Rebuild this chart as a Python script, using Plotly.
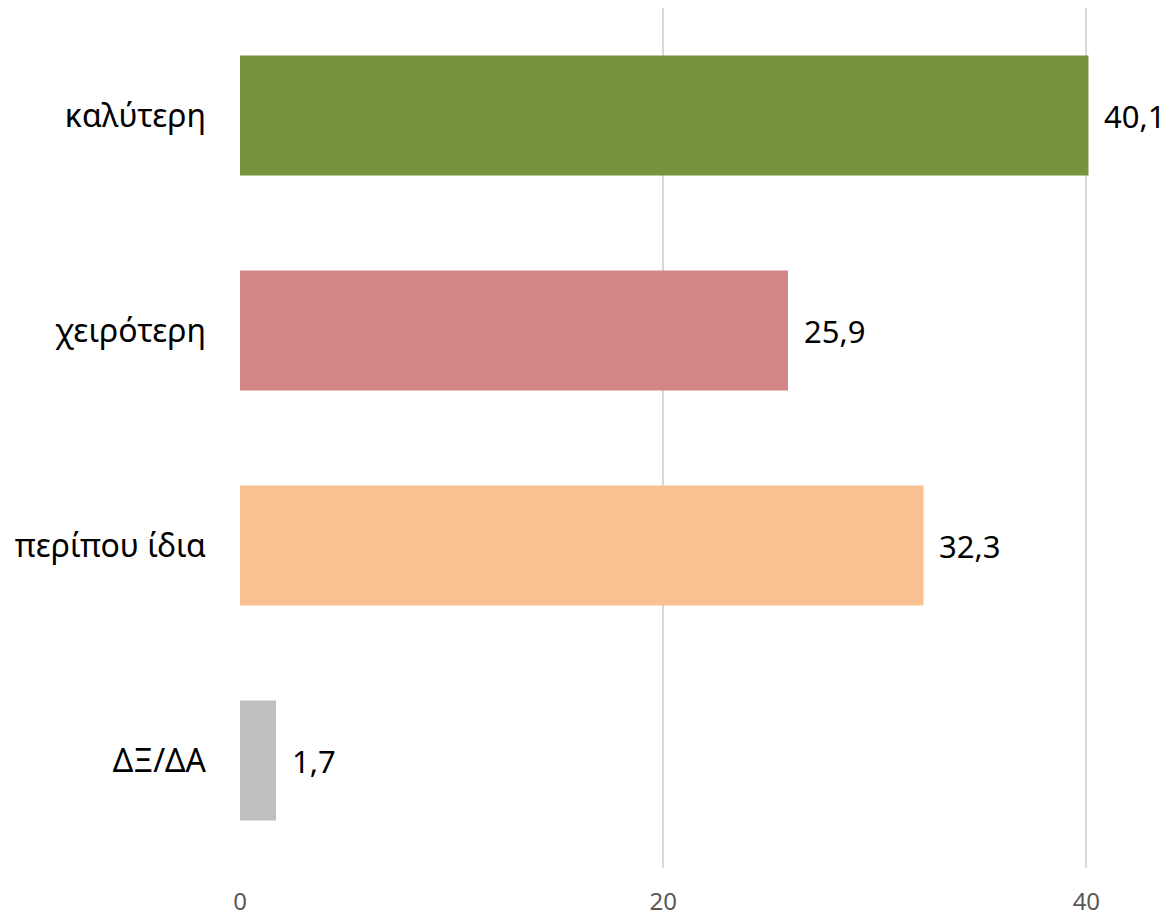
import plotly.graph_objects as go

categories = ["καλύτερη", "χειρότερη", "περίπου ίδια", "ΔΞ/ΔΑ"]
values = [40.1, 25.9, 32.3, 1.7]
colors = ["#77933C", "#D38685", "#F9C191", "#BFBFBF"]
x_ticks = [0, 20, 40]

labels = [f"{v:.1f}".replace(".", ",") for v in values]

fig = go.Figure()
fig.add_trace(go.Bar(
    y=categories, x=values, orientation="h",
    marker=dict(color=colors, line=dict(width=0)),
    width=0.558, hoverinfo="skip",
))
for c, v, t in zip(categories, values, labels):
    fig.add_annotation(x=v, y=c, text=t, showarrow=False, xanchor="left",
                       xshift=14, font=dict(family="Noto Sans", size=31, color="#000000"))

fig.update_layout(
    width=1163, height=909,
    margin=dict(l=232, r=0, t=0, b=49, autoexpand=False),
    paper_bgcolor="white", plot_bgcolor="white",
    showlegend=False,
    font=dict(family="Noto Sans"),
)
fig.update_xaxes(
    range=[0, 44], tickvals=x_ticks, ticktext=[str(t) for t in x_ticks],
    showgrid=True, gridcolor="#D9D9D9", gridwidth=2, zeroline=False,
    showline=False, ticks="", ticklabelstandoff=17,
    tickfont=dict(family="Noto Sans", size=24, color="#595959"),
)
fig.update_yaxes(
    autorange="reversed", showgrid=False, zeroline=False, showline=False,
    ticks="", ticklabelstandoff=33,
    tickfont=dict(family="Noto Sans", size=32, color="#000000"),
)
fig.write_html("out.html")
